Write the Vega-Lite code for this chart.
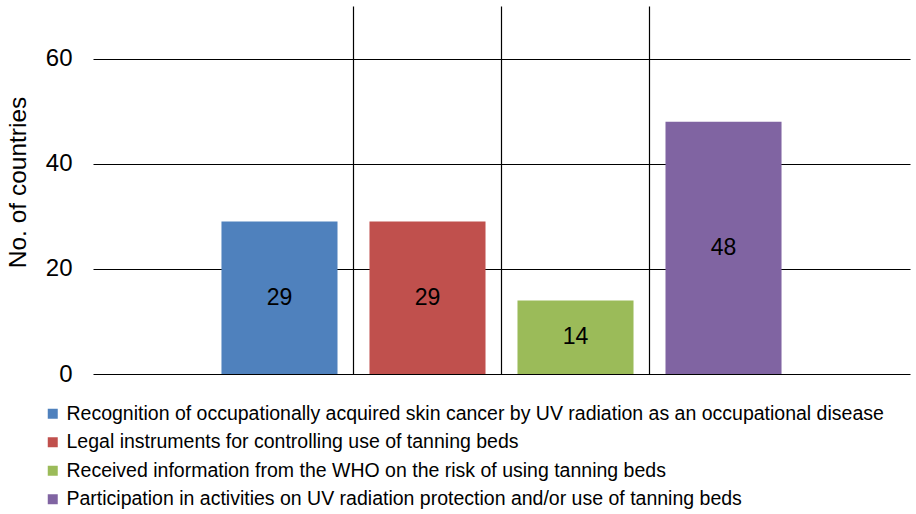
{
  "$schema": "https://vega.github.io/schema/vega-lite/v6.json",
  "width": 817,
  "height": 368,
  "autosize": {"type": "none"},
  "padding": {"left": 93, "top": 6, "right": 6, "bottom": 140},
  "data": {
    "values": [
      {"Indicator": "Recognition of occupationally acquired skin cancer by UV radiation as an occupational disease", "Countries": 29},
      {"Indicator": "Legal instruments for controlling use of tanning beds", "Countries": 29},
      {"Indicator": "Received information from the WHO on the risk of using tanning beds", "Countries": 14},
      {"Indicator": "Participation in activities on UV radiation protection and/or use of tanning beds", "Countries": 48}
    ]
  },
  "encoding": {
    "x": {
      "field": "Indicator",
      "type": "nominal",
      "sort": null,
      "scale": {"paddingInner": 0.216, "paddingOuter": 0.868},
      "axis": {
        "title": null,
        "labels": false,
        "ticks": false,
        "domain": false,
        "grid": true,
        "bandPosition": -0.138,
        "gridColor": "#000",
        "gridWidth": 1.2,
        "gridOpacity": {"condition": {"test": "datum.index === 0", "value": 0}, "value": 1}
      }
    }
  },
  "layer": [
    {
      "mark": {"type": "bar"},
      "encoding": {
        "y": {
          "field": "Countries",
          "type": "quantitative",
          "scale": {"domain": [0, 70]},
          "axis": {
            "title": "No. of countries",
            "values": [0, 20, 40, 60],
            "grid": true,
            "gridColor": "#000",
            "gridWidth": 1.2,
            "domain": false,
            "ticks": false,
            "labelFontSize": 24,
            "labelPadding": 21,
            "labelColor": "#000",
            "titleFontSize": 24.5,
            "titleFontWeight": "normal",
            "titleColor": "#000",
            "titleX": -68,
            "titleY": 176,
            "titleBaseline": "alphabetic",
            "titleAlign": "center",
            "titleAngle": -90
          }
        },
        "color": {
          "field": "Indicator",
          "type": "nominal",
          "scale": {
            "domain": [
              "Recognition of occupationally acquired skin cancer by UV radiation as an occupational disease",
              "Legal instruments for controlling use of tanning beds",
              "Received information from the WHO on the risk of using tanning beds",
              "Participation in activities on UV radiation protection and/or use of tanning beds"
            ],
            "range": ["#4F81BD", "#C0504D", "#9BBB59", "#8064A2"]
          },
          "legend": {
            "title": null,
            "orient": "none",
            "legendX": -50,
            "legendY": 398,
            "symbolType": "square",
            "symbolSize": 100,
            "symbolStrokeWidth": 0,
            "labelFontSize": 19.5,
            "labelColor": "#000",
            "labelLimit": 1000,
            "labelOffset": 4,
            "rowPadding": 7.5
          }
        }
      }
    },
    {
      "mark": {"type": "text", "fontSize": 23, "color": "#000", "baseline": "middle"},
      "encoding": {
        "y": {"field": "Countries", "type": "quantitative", "stack": "zero", "bandPosition": 0.5},
        "text": {"field": "Countries", "type": "quantitative"}
      }
    }
  ],
  "config": {
    "font": "Liberation Sans",
    "view": {"stroke": null}
  }
}
